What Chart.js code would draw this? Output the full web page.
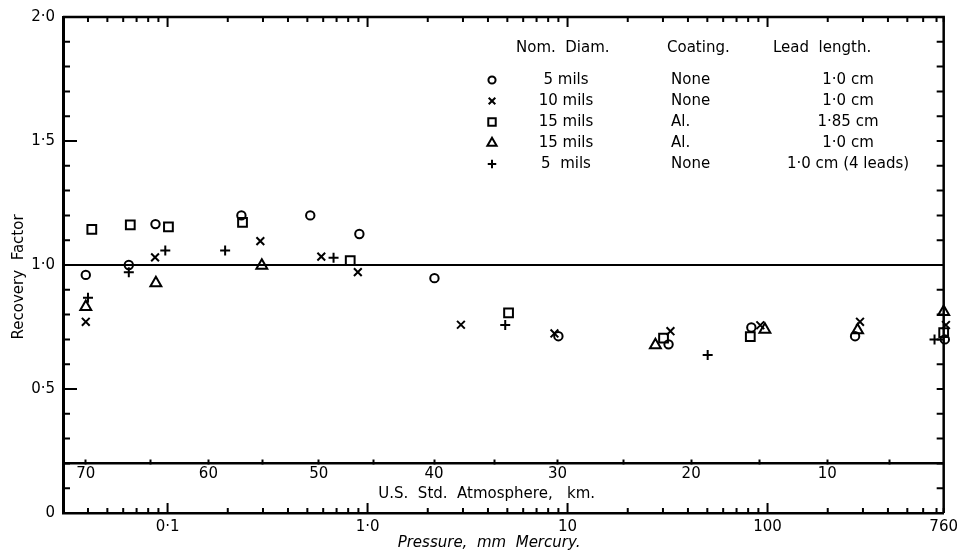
<!DOCTYPE html>
<html><head><meta charset="utf-8">
<script src="https://cdn.jsdelivr.net/npm/chart.js@4.4.0/dist/chart.umd.min.js"></script>
<style>html,body{margin:0;padding:0;background:#fff}#wrap{width:963px;height:552px;position:relative}</style>
</head><body><div id="wrap"><canvas id="c" width="963" height="552"></canvas></div>
<script>
// ---- data (pressure in mm Hg, recovery factor) ----
const circleP = [0.039, 0.064, 0.087, 0.234, 0.517, 0.91, 2.16, 9.0, 32.0, 83, 274, 770];
const circleR = [0.96, 1.00, 1.165, 1.20, 1.20, 1.125, 0.947, 0.713, 0.68, 0.748, 0.713, 0.70];
const crossP = [0.039, 0.0866, 0.291, 0.587, 0.894, 2.93, 8.6, 32.7, 92, 290, 780];
const crossR = [0.771, 1.031, 1.096, 1.034, 0.971, 0.759, 0.724, 0.733, 0.757, 0.771, 0.758];
const squareP = [0.0418, 0.0651, 0.101, 0.237, 0.819, 5.07, 30.2, 82, 760];
const squareR = [1.144, 1.162, 1.154, 1.172, 1.018, 0.807, 0.705, 0.711, 0.727];
const triP = [0.039, 0.0874, 0.296, 27.5, 97, 282, 760];
const triR = [0.831, 0.927, 0.998, 0.677, 0.740, 0.737, 0.811];
const plusP = [0.040, 0.064, 0.0974, 0.194, 0.676, 4.88, 50.2, 684];
const plusR = [0.868, 0.971, 1.058, 1.058, 1.029, 0.758, 0.637, 0.700];
const refLineP = [0.03, 760];
const refLineR = [1.0, 1.0];

// ---- legend table ----
const legendDiam = ['5 mils', '10 mils', '15 mils', '15 mils', '5  mils'];
const legendCoating = ['None', 'None', 'Al.', 'Al.', 'None'];
const legendLead = ['1\u00B70 cm', '1\u00B70 cm', '1\u00B785 cm', '1\u00B70 cm', '1\u00B70 cm (4 leads)'];
const legendHeaders = ['Nom.  Diam.', 'Coating.', 'Lead  length.'];

// ---- ticks ----
const xTickValues = [0.04,0.05,0.06,0.07,0.08,0.09,0.1,0.2,0.3,0.4,0.5,0.6,0.7,0.8,0.9,1,2,3,4,5,6,7,8,9,10,20,30,40,50,60,70,80,90,100,200,300,400,500,600,700,760];
const xMajorValues = [0.1, 1, 10, 100];
const xLabelValues = [0.1, 1, 10, 100, 760];
const xLabelText = ['0\u00B71', '1\u00B70', '10', '100', '760'];
const yLabelValues = [0, 0.5, 1, 1.5, 2];
const yLabelText = ['0', '0\u00B75', '1\u00B70', '1\u00B75', '2\u00B70'];
// U.S. Standard Atmosphere altitude scale (km) and matching pressure (mm Hg)
const altKm = [70, 65, 60, 55, 50, 45, 40, 35, 30, 25, 20, 15, 10, 5];
const altPressure = [0.039, 0.082, 0.16, 0.30, 0.57, 1.07, 2.15, 4.3, 8.9, 19.1, 41.5, 90.8, 199, 405];
const altLineValue = 0.2;

const FONT = 'DejaVu Sans';
Chart.defaults.font.family = FONT;
Chart.defaults.font.size = 15;
Chart.defaults.color = '#000';

const pts = (xs, ys) => xs.map((x, i) => ({x, y: ys[i]}));
const markerDS = (label, xs, ys, style, r) => ({
  type: 'scatter', label, data: pts(xs, ys), pointStyle: style, pointRadius: r,
  pointBorderColor: '#000', pointBackgroundColor: 'rgba(0,0,0,0)', pointBorderWidth: 2,
  clip: false, showLine: false
});
const styles = ['circle', 'crossRot', 'rect', 'triangle', 'cross'];
const radii = [4.2, 5.5, 6.2, 6.3, 5];

const frameAndTicks = {
  id: 'frameAndTicks',
  afterDatasetsDraw(chart) {
    const {ctx, chartArea: a, scales} = chart;
    ctx.save();
    ctx.strokeStyle = '#000';
    ctx.lineWidth = 2;
    ctx.beginPath();
    scales.x.ticks.forEach(t => {
      const px = scales.x.getPixelForValue(t.value);
      const len = xMajorValues.includes(t.value) ? 10 : 5;
      ctx.moveTo(px, a.bottom); ctx.lineTo(px, a.bottom - len);
      ctx.moveTo(px, a.top); ctx.lineTo(px, a.top + len);
    });
    scales.y.ticks.forEach(t => {
      const py = scales.y.getPixelForValue(t.value);
      const major = Math.abs(t.value * 2 - Math.round(t.value * 2)) < 1e-6;
      ctx.moveTo(a.left, py); ctx.lineTo(a.left + (major ? 14 : 7), py);
      ctx.moveTo(a.right, py); ctx.lineTo(a.right - 7, py);
    });
    ctx.stroke();
    ctx.lineWidth = 2.5;
    ctx.beginPath();
    ctx.moveTo(a.left, a.top); ctx.lineTo(a.right, a.top); ctx.lineTo(a.right, a.bottom);
    ctx.stroke();
    ctx.restore();
  }
};

const tableLegend = {
  id: 'tableLegend',
  afterDraw(chart) {
    const {ctx} = chart;
    ctx.save();
    ctx.fillStyle = '#000';
    ctx.font = '15px "' + FONT + '"';
    ctx.textBaseline = 'middle';
    ctx.textAlign = 'left';
    ctx.fillText(legendHeaders[0], 516, 48);
    ctx.fillText(legendHeaders[1], 667, 48);
    ctx.fillText(legendHeaders[2], 773, 48);
    for (let i = 0; i < legendDiam.length; i++) {
      const y = 80 + i * 21;
      ctx.textAlign = 'center';
      ctx.fillText(legendDiam[i], 566, y);
      ctx.textAlign = 'left';
      ctx.fillText(legendCoating[i], 671, y);
      ctx.textAlign = 'center';
      ctx.fillText(legendLead[i], 848, y);
      ctx.strokeStyle = '#000';
      ctx.fillStyle = 'rgba(0,0,0,0)';
      ctx.lineWidth = 2;
      Chart.helpers.drawPoint(ctx, {pointStyle: styles[i], radius: radii[i] * 0.85, borderWidth: 2, rotation: 0}, 492, y);
      ctx.fillStyle = '#000';
    }
    ctx.restore();
  }
};

new Chart(document.getElementById('c'), {
  data: {
    datasets: [
      {type: 'line', label: 'ref', data: pts(refLineP, refLineR), borderColor: '#000', borderWidth: 2, pointRadius: 0, fill: false},
      markerDS('5 mils, None, 1.0 cm', circleP, circleR, styles[0], radii[0]),
      markerDS('10 mils, None, 1.0 cm', crossP, crossR, styles[1], radii[1]),
      markerDS('15 mils, Al., 1.85 cm', squareP, squareR, styles[2], radii[2]),
      markerDS('15 mils, Al., 1.0 cm', triP, triR, styles[3], radii[3]),
      markerDS('5 mils, None, 1.0 cm (4 leads)', plusP, plusR, styles[4], radii[4])
    ]
  },
  options: {
    responsive: false, animation: false, devicePixelRatio: 1,
    layout: {padding: {left: 0, right: 18, top: 15, bottom: 0}},
    plugins: {legend: {display: false}, tooltip: {enabled: false}},
    scales: {
      x: {
        type: 'logarithmic', min: 0.03, max: 760, position: 'bottom',
        afterBuildTicks: s => { s.ticks = xTickValues.map(v => ({value: v})); },
        ticks: {autoSkip: false, maxRotation: 0, padding: 5,
          callback: v => { const i = xLabelValues.indexOf(v); return i >= 0 ? xLabelText[i] : ''; }},
        grid: {display: false, drawTicks: false},
        border: {display: true, color: '#000', width: 2.5},
        title: {display: true, text: 'Pressure,  mm  Mercury.      ', font: {style: 'italic', size: 15}, padding: {top: 0, bottom: 0}},
        afterFit: s => { s.height = 39; }
      },
      y: {
        type: 'linear', min: 0, max: 2, position: 'left',
        ticks: {stepSize: 0.1, autoSkip: false, padding: 8,
          callback: v => { const i = yLabelValues.findIndex(u => Math.abs(u - v) < 1e-9); return i >= 0 ? yLabelText[i] : ''; }},
        grid: {display: false, drawTicks: false},
        border: {display: true, color: '#000', width: 3},
        title: {display: true, text: 'Recovery  Factor     ', padding: {top: 10, bottom: 0}},
        afterFit: s => { s.width = 63; }
      },
      alt: {
        type: 'logarithmic', axis: 'x', min: 0.03, max: 760, position: {y: altLineValue},
        afterBuildTicks: s => { s.ticks = altPressure.map(v => ({value: v})); },
        ticks: {autoSkip: false, maxRotation: 0, padding: 7,
          callback: (v, i) => (altKm[i] % 10 === 0 ? String(altKm[i]) : '')},
        grid: {display: true, drawOnChartArea: false, drawTicks: true, tickLength: -5, tickWidth: 2, tickColor: '#000', color: '#000'},
        border: {display: true, color: '#000', width: 2.5},
        title: {display: true, text: 'U.S.  Std.  Atmosphere,   km.       ', padding: {top: -5, bottom: 0}}
      }
    }
  },
  plugins: [frameAndTicks, tableLegend]
});
</script>
</body></html>
